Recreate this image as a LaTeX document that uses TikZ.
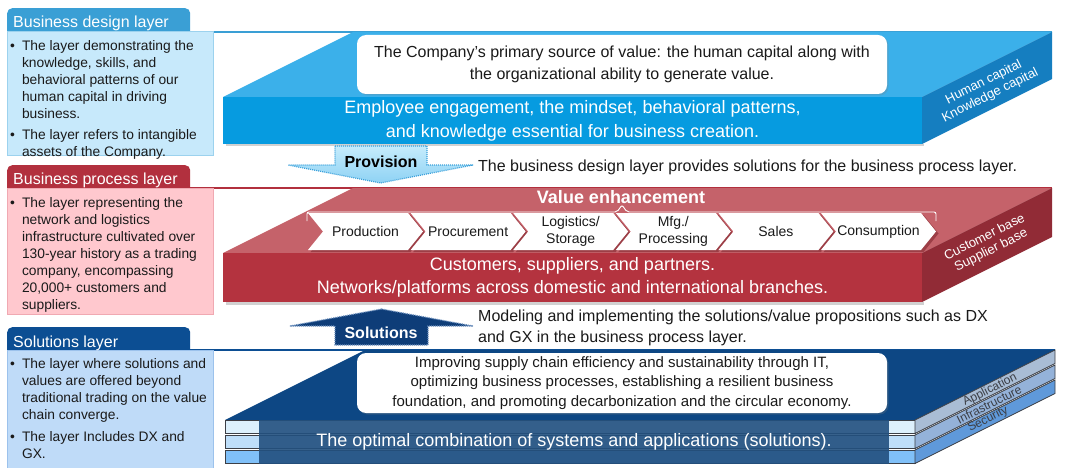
\documentclass[tikz,border=0pt]{standalone}
\usepackage{fontspec}
\setmainfont{Liberation Sans}
\usetikzlibrary{shadows}

% layer colours
\definecolor{tabblue}{HTML}{3A9FD5}
\definecolor{panelblue}{HTML}{C7E9FB}
\definecolor{edgeblue}{HTML}{9CD2EE}
\definecolor{tabred}{HTML}{B2303E}
\definecolor{panelpink}{HTML}{FFC8CE}
\definecolor{edgepink}{HTML}{F0A9B2}
\definecolor{tabnavy}{HTML}{0C4E93}
\definecolor{panelsky}{HTML}{BFDBF8}
\definecolor{edgesky}{HTML}{9CC2EC}
% slab faces
\definecolor{hcTop}{HTML}{3BB0EA}
\definecolor{hcFront}{HTML}{069BE0}
\definecolor{hcSide}{HTML}{157EC0}
\definecolor{bpTop}{HTML}{C5626A}
\definecolor{bpFront}{HTML}{B4333F}
\definecolor{bpSide}{HTML}{912B36}
\definecolor{chevShade}{HTML}{7C2129}
\definecolor{slTop}{HTML}{0D4784}
\definecolor{bandA}{HTML}{DDF0FC}
\definecolor{bandB}{HTML}{BEDEF9}
\definecolor{bandC}{HTML}{80C0F8}
\definecolor{sideA}{HTML}{A9BDD5}
\definecolor{sideB}{HTML}{94B2D9}
\definecolor{sideC}{HTML}{5F99DA}
\definecolor{bandEdge}{HTML}{3C3F46}
\definecolor{overlayNavy}{HTML}{22507F}
% arrows
\definecolor{provTop}{HTML}{C6ECFC}
\definecolor{provBottom}{HTML}{8ED2F4}
\definecolor{provEdge}{HTML}{3AA0DA}
\definecolor{solFill}{HTML}{0E3D78}
\definecolor{solEdge}{HTML}{6A8FBE}
\definecolor{txtgrey}{HTML}{1A1A1A}

% one step of the value chain: name, left x, label
\newcommand\valuestep[3]{%
  \fill[chevShade, opacity=0.55] (#2+2.5,215) -- (#2+102.5,215) -- (#2+117.5,233.5)
     -- (#2+102.5,252) -- (#2+2.5,252) -- (#2+17.5,233.5) -- cycle;
  \fill[white] (#2,213) -- (#2+100,213) -- (#2+115,231.5) -- (#2+100,250)
     -- (#2,250) -- (#2+15,231.5) -- cycle;
  \node[steptxt] (#1) at (#2+57.5,231.5) {#3};}

\begin{document}
\begin{tikzpicture}[x=1pt,y=-1pt,
  tabtxt/.style={text=white, font=\fontsize{16}{19}\selectfont, anchor=base west, inner sep=0pt},
  tabshape/.style={rounded corners=5pt, anchor=north west, inner sep=0pt,
                   minimum width=183pt, minimum height=28pt},
  panel/.style={anchor=north west, inner sep=0pt, minimum width=206pt, line width=0.6pt},
  bodytxt/.style={anchor=north west, inner sep=0pt, text=txtgrey,
                  font=\fontsize{13.8}{17}\selectfont},
  fronttxt/.style={text=white, font=\fontsize{18}{24}\selectfont, align=center, inner sep=0pt},
  sidetxt/.style={font=\fontsize{13}{14.5}\selectfont, align=center, rotate=26.57, inner sep=0pt},
  bandtxt/.style={font=\fontsize{12}{13}\selectfont, text=bandEdge, rotate=26.57, inner sep=0pt},
  notebox/.style={fill=white, rounded corners=9pt, minimum width=530pt, inner sep=0pt,
                  align=center, text=txtgrey,
                  drop shadow={shadow xshift=1.5pt, shadow yshift=-1.5pt, opacity=0.25}},
  steptxt/.style={font=\fontsize{14}{17}\selectfont, align=center, inner sep=0pt, text=txtgrey},
  captxt/.style={font=\fontsize{16}{21}\selectfont, align=left, inner sep=0pt, anchor=west, text=txtgrey},
  arrowlbl/.style={font=\bfseries\fontsize{16}{19}\selectfont, inner sep=0pt},
]
\useasboundingbox[fill=white] (0,0) rectangle (1068,468);

% ---------- left-hand captions ----------
\draw[tabblue, line width=1.5pt] (190,32) -- (1052,32);
\draw[tabred, line width=1.5pt] (190,188) -- (1052,188);
\draw[tabnavy, line width=1.5pt] (190,350) -- (1055,350);

\node[tabshape, fill=tabblue] (tab1) at (7,8) {};
\node[panel, fill=panelblue, draw=edgeblue, minimum height=124pt] (panel1) at (7,31) {};
\node[tabtxt] (tab1txt) at (13,28) {Business design layer};
\node[bodytxt] (panel1txt) at (10,38) {\begin{tabular}{@{}l@{\hspace{7pt}}l@{}}
•& The layer demonstrating the\\
 & knowledge, skills, and\\
 & behavioral patterns of our\\
 & human capital in driving\\
 & business.\\[4pt]
•& The layer refers to intangible\\
 & assets of the Company.
\end{tabular}};

\node[tabshape, fill=tabred] (tab2) at (7,165) {};
\node[panel, fill=panelpink, draw=edgepink, minimum height=126pt] (panel2) at (7,188) {};
\node[tabtxt] (tab2txt) at (13,184) {Business process layer};
\node[bodytxt] (panel2txt) at (10,195) {\begin{tabular}{@{}l@{\hspace{7pt}}l@{}}
•& The layer representing the\\
 & network and logistics\\
 & infrastructure cultivated over\\
 & 130-year history as a trading\\
 & company, encompassing\\
 & 20,000+ customers and\\
 & suppliers.
\end{tabular}};

\node[tabshape, fill=tabnavy] (tab3) at (7,327) {};
\node[panel, fill=panelsky, draw=edgesky, minimum height=118pt] (panel3) at (7,350) {};
\node[tabtxt] (tab3txt) at (13,347) {Solutions layer};
\node[bodytxt] (panel3txt) at (10,356) {\begin{tabular}{@{}l@{\hspace{7pt}}l@{}}
•& The layer where solutions and\\
 & values are offered beyond\\
 & traditional trading on the value\\
 & chain converge.\\[5pt]
•& The layer Includes DX and\\
 & GX.
\end{tabular}};

% ---------- business design slab ----------
\fill[black!18] (226,144) rectangle (924,146.5);
\fill[hcTop] (223,97) -- (353,32) -- (1052,32) -- (922,97) -- cycle;
\fill[hcSide] (922,97) -- (1052,32) -- (1052,79) -- (922,144) -- cycle;
\node[fill=hcFront, minimum width=699pt, minimum height=47pt, inner sep=0pt,
      fronttxt] (hcfront) at (572.5,120.5)
  {Employee engagement, the mindset, behavioral patterns,\\and knowledge essential for business creation.};
\node[notebox, minimum height=59pt, font=\fontsize{16}{22}\selectfont] (hcnote) at (622,64.5)
  {The Company’s primary source of value: the human capital along with\\the organizational ability to generate value.};
\node[sidetxt, text=white] (hcside) at (987,89) {Human capital\\Knowledge capital};

% ---------- provision arrow ----------
\path[top color=provTop, bottom color=provBottom, draw=provEdge, line width=1.2pt,
      dash pattern=on 1pt off 1pt]
  (335,146) -- (427,146) -- (427,165) -- (473,165) -- (380.5,183) -- (288,165) -- (335,165) -- cycle;
\node[arrowlbl, text=black] (provision) at (381,162) {Provision};
\node[captxt] (provcap) at (478,167)
  {The business design layer provides solutions for the business process layer.};

% ---------- business process slab ----------
\fill[black!18] (226,302) rectangle (924,304.5);
\fill[bpTop] (223,253) -- (353,188) -- (1052,188) -- (922,253) -- cycle;
\fill[bpSide] (922,253) -- (1052,188) -- (1052,237) -- (922,302) -- cycle;
\node[fill=bpFront, minimum width=699pt, minimum height=49pt, inner sep=0pt,
      fronttxt, font=\fontsize{18}{23}\selectfont] (bpfront) at (572.5,277.5)
  {Customers, suppliers, and partners.\\Networks/platforms across domestic and international branches.};
\node[text=white, font=\bfseries\fontsize{18}{21}\selectfont, inner sep=0pt] (valueenh) at (621,197)
  {Value enhancement};
\draw[white, line width=0.9pt, rounded corners=2pt]
  (307,221) -- (307,212) -- (617,212) -- (622,205) -- (627,212) -- (936,212) -- (936,221);
\valuestep{production}{308}{Production}
\valuestep{procurement}{410.6}{Procurement}
\valuestep{logistics}{513.2}{Logistics/\\Storage}
\valuestep{mfg}{615.8}{Mfg./\\Processing}
\valuestep{sales}{718.4}{Sales}
\valuestep{consumption}{821}{Consumption}
\node[sidetxt, text=white] (bpside) at (988,244) {Customer base\\Supplier base};

% ---------- solutions arrow ----------
\path[fill=solFill, draw=solEdge, line width=1.2pt, dash pattern=on 1pt off 1pt]
  (381.5,309) -- (473,326) -- (428,326) -- (428,345) -- (335,345) -- (335,326) -- (290,326) -- cycle;
\node[arrowlbl, text=white] (solutions) at (381,333) {Solutions};
\node[captxt] (solcap) at (478,327.5)
  {Modeling and implementing the solutions/value propositions such as DX\\and GX in the business process layer.};

% ---------- solutions slab (three stacked layers) ----------
\fill[slTop] (225,420) -- (365,350) -- (1055,350) -- (915,420) -- cycle;
\foreach \yt/\fc/\sc in {420/bandA/sideA, 435/bandB/sideB, 450/bandC/sideC}{
  \filldraw[fill=\fc, draw=bandEdge, line width=0.7pt] (225,\yt) rectangle (915,\yt+13.5);
  \filldraw[fill=\sc, draw=bandEdge, line width=0.7pt]
    (915,\yt) -- (1055,\yt-70) -- (1055,\yt-56.5) -- (915,\yt+13.5) -- cycle;
}
\node[bandtxt] (application) at (990,390) {Application};
\node[bandtxt] (infrastructure) at (989,404.5) {Infrastructure};
\node[bandtxt] (security) at (988,419.5) {Security};
\node[fill=overlayNavy, fill opacity=0.9, text opacity=1, minimum width=630pt,
      minimum height=43.5pt, inner sep=0pt, fronttxt] (slfront) at (574,441.75)
  {The optimal combination of systems and applications (solutions).};
\node[notebox, minimum height=60pt, font=\fontsize{15}{19.5}\selectfont] (slnote) at (622,383)
  {Improving supply chain efficiency and sustainability through IT,\\
   optimizing business processes, establishing a resilient business\\
   foundation, and promoting decarbonization and the circular economy.};
\end{tikzpicture}
\end{document}
